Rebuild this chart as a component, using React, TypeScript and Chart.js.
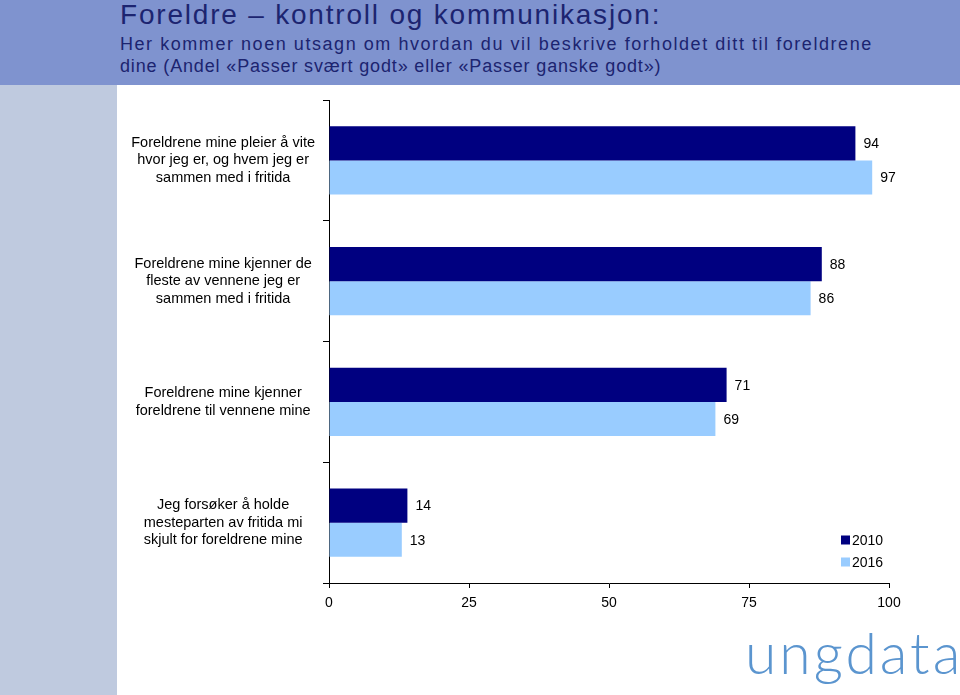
import React, { useEffect, useRef } from 'react';
import { Chart, registerables } from 'chart.js';

Chart.register(...registerables);

const categories: string[][] = [
  ['Foreldrene mine pleier å vite', 'hvor jeg er, og hvem jeg er', 'sammen med i fritida'],
  ['Foreldrene mine kjenner de', 'fleste av vennene jeg er', 'sammen med i fritida'],
  ['Foreldrene mine kjenner', 'foreldrene til vennene mine'],
  ['Jeg forsøker å holde', 'mesteparten av fritida mi', 'skjult for foreldrene mine'],
];
const seriesNames = ['2010', '2016'];
const series2010 = [94, 88, 71, 14];
const series2016 = [97, 86, 69, 13];
const xTicks = [0, 25, 50, 75, 100];

const FONT = '"Liberation Sans", Arial, Helvetica, sans-serif';
const DARK = '#000080';
const LIGHT = '#99ccff';

const valueLabels = {
  id: 'valueLabels',
  afterDatasetsDraw(chart: any) {
    const ctx = chart.ctx;
    ctx.save();
    ctx.font = `14px ${FONT}`;
    ctx.fillStyle = '#000';
    ctx.textBaseline = 'middle';
    ctx.textAlign = 'left';
    chart.data.datasets.forEach((ds: any, i: number) => {
      const meta = chart.getDatasetMeta(i);
      meta.data.forEach((el: any, j: number) => {
        ctx.fillText(String(ds.data[j]), el.x + 8, el.y + 1);
      });
    });
    ctx.restore();
  },
};

const customLegend = {
  id: 'customLegend',
  afterDraw(chart: any) {
    const ctx = chart.ctx;
    const area = chart.chartArea;
    ctx.save();
    ctx.font = `14px ${FONT}`;
    ctx.textBaseline = 'middle';
    ctx.textAlign = 'left';
    chart.data.datasets.forEach((ds: any, i: number) => {
      const x = area.right - 48;
      const y = area.bottom - 43 + i * 22;
      ctx.fillStyle = ds.backgroundColor;
      ctx.fillRect(x, y - 4.5, 9, 9);
      ctx.fillStyle = '#000';
      ctx.fillText(ds.label, x + 11, y + 1);
    });
    ctx.restore();
  },
};

function BarChart() {
  const ref = useRef<HTMLCanvasElement | null>(null);
  useEffect(() => {
    if (!ref.current) return;
    const chart = new Chart(ref.current, {
      type: 'bar',
      data: {
        labels: categories,
        datasets: [
          { label: seriesNames[0], data: series2010, backgroundColor: DARK, borderWidth: 0, categoryPercentage: 0.565, barPercentage: 1 },
          { label: seriesNames[1], data: series2016, backgroundColor: LIGHT, borderWidth: 0, categoryPercentage: 0.565, barPercentage: 1 },
        ],
      },
      options: {
        indexAxis: 'y',
        responsive: false,
        animation: false,
        devicePixelRatio: 1,
        layout: { padding: { left: 0, right: 71, top: 15, bottom: 82 } },
        plugins: { legend: { display: false }, tooltip: { enabled: false } },
        scales: {
          y: {
            grid: { drawOnChartArea: false, tickLength: 6, color: '#000', offset: true },
            border: { color: '#000', width: 1 },
            ticks: { color: '#000', font: { size: 14.5, family: FONT, lineHeight: 1.2 }, crossAlign: 'center', padding: 8 },
            afterFit: (s: any) => {
              s.width = 212;
              s.paddingTop = 0;
              s.paddingBottom = 0;
            },
          },
          x: {
            min: 0,
            max: 100,
            afterBuildTicks: (s: any) => { s.ticks = xTicks.map((v) => ({ value: v })); },
            ticks: { color: '#000', font: { size: 14, family: FONT }, padding: 7, maxRotation: 0 },
            grid: { drawOnChartArea: false, tickLength: 5, color: '#000' },
            border: { color: '#000', width: 1 },
            afterFit: (s: any) => { s.height = 30; },
          },
        },
      },
      plugins: [valueLabels, customLegend],
    } as any);
    return () => chart.destroy();
  }, []);
  return <canvas ref={ref} width={843} height={610} style={{ display: 'block', width: 843, height: 610 }} />;
}

export default function App() {
  const sub = { position: 'absolute' as const, left: 120, fontSize: 18, lineHeight: '22px', color: '#1c2470', whiteSpace: 'nowrap' as const };
  return (
    <div style={{ position: 'fixed', left: 0, top: 0, width: 960, height: 695, background: '#fff', overflow: 'hidden', fontFamily: FONT }}>
      <div style={{ position: 'absolute', left: 0, top: 0, width: 960, height: 85, background: '#7f93cf' }} />
      <div style={{ position: 'absolute', left: 0, top: 85, width: 117, height: 610, background: '#bfcadf' }} />
      <div style={{ position: 'absolute', left: 120, top: 1, fontSize: 28, lineHeight: '28px', color: '#1c2470', letterSpacing: '1.8px', whiteSpace: 'nowrap' }}>
        Foreldre – kontroll og kommunikasjon:
      </div>
      <div style={{ ...sub, top: 33, letterSpacing: '1.55px' }}>
        Her kommer noen utsagn om hvordan du vil beskrive forholdet ditt til foreldrene
      </div>
      <div style={{ ...sub, top: 55, letterSpacing: '0.85px' }}>
        dine (Andel «Passer svært godt» eller «Passer ganske godt»)
      </div>
      <div style={{ position: 'absolute', left: 117, top: 85 }}>
        <BarChart />
      </div>
      <div style={{ position: 'absolute', left: 745, top: 617, fontFamily: 'Lato, "Open Sans", sans-serif', fontWeight: 300, fontSize: 57, lineHeight: '70px', color: '#5b95cf', letterSpacing: '3px', whiteSpace: 'nowrap' }}>
        ungdata
      </div>
    </div>
  );
}
